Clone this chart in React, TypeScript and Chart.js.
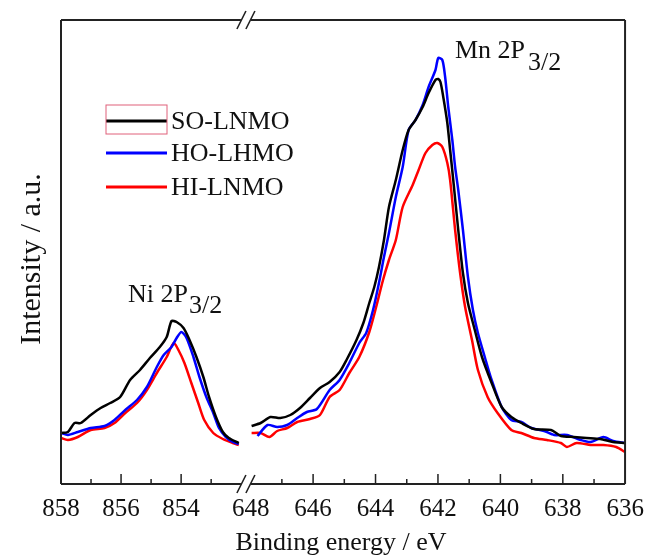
import React, { useEffect, useRef } from "react";
import { Chart, registerables } from "chart.js";

Chart.register(...registerables);

// ---------- data ----------
const seriesNames = ["SO-LNMO", "HO-LHMO", "HI-LNMO"];
const seriesColors = ["#000000", "#0000ff", "#ff0000"];

const tickEnergies = [858, 856, 854, 648, 646, 644, 642, 640, 638, 636];
const tickLabels = ["858", "856", "854", "648", "646", "644", "642", "640", "638", "636"];
const majorTickEnergies = [856, 854, 646, 644, 642, 640, 638];
const minorTickEnergies = [857, 855, 853, 647, 645, 643, 641, 639, 637];

// Ni 2p3/2 region (binding energy, intensity a.u.)
const soNiE = [858.0, 857.77, 857.55, 857.34, 857.01, 856.68, 856.36, 856.03, 855.7, 855.37, 855.04, 854.71, 854.48, 854.32, 854.15, 853.92, 853.72, 853.49, 853.26, 853.07, 852.84, 852.61, 852.41, 852.08];
const soNiI = [51, 52, 61, 61, 69, 76, 81, 87, 104, 114, 126, 137, 147, 163, 162, 156, 144, 127, 107, 87, 67, 52, 46, 41];
const hoNiE = [858.0, 857.77, 857.44, 857.01, 856.55, 856.22, 855.86, 855.47, 855.14, 854.81, 854.58, 854.32, 854.15, 853.99, 853.82, 853.59, 853.39, 853.16, 852.93, 852.74, 852.51, 852.28, 852.08];
const hoNiI = [51, 49, 52, 56, 58, 64, 74, 84, 97, 117, 129, 137, 146, 152, 146, 127, 107, 87, 71, 56, 47, 42, 40];
const hiNiE = [858.0, 857.77, 857.44, 857.01, 856.55, 856.22, 855.86, 855.47, 855.14, 854.81, 854.48, 854.25, 854.09, 853.89, 853.66, 853.43, 853.23, 852.93, 852.61, 852.28, 852.08];
const hiNiI = [46, 44, 47, 54, 56, 61, 71, 81, 94, 111, 127, 141, 134, 121, 101, 81, 64, 51, 45, 41, 39];

// Mn 2p3/2 region
const soMnE = [647.97, 647.68, 647.37, 647.05, 646.73, 646.42, 646.1, 645.78, 645.47, 645.15, 644.93, 644.61, 644.39, 644.2, 644.04, 643.89, 643.73, 643.57, 643.35, 643.13, 642.94, 642.72, 642.49, 642.3, 642.08, 641.99, 641.92, 641.83, 641.7, 641.61, 641.51, 641.35, 641.2, 641.04, 640.82, 640.59, 640.28, 639.96, 639.65, 639.33, 638.92, 638.38, 638.06, 637.65, 637.24, 636.8, 636.39, 636.01];
const soMnI = [58, 61, 67, 66, 69, 76, 86, 96, 102, 112, 124, 144, 161, 181, 197, 217, 244, 277, 304, 334, 354, 364, 377, 391, 404, 405, 402, 387, 361, 334, 304, 254, 211, 181, 154, 127, 101, 77, 67, 61, 55, 54, 48, 47, 46, 45, 42, 41];
const hoMnE = [647.78, 647.46, 647.15, 646.83, 646.51, 646.2, 645.88, 645.47, 645.15, 644.84, 644.52, 644.3, 644.08, 643.89, 643.73, 643.57, 643.35, 643.13, 642.94, 642.72, 642.49, 642.3, 642.08, 641.99, 641.86, 641.77, 641.67, 641.54, 641.45, 641.35, 641.2, 641.04, 640.88, 640.72, 640.5, 640.28, 639.96, 639.65, 639.33, 639.01, 638.6, 638.28, 637.87, 637.43, 637.11, 636.7, 636.39, 636.01];
const hoMnI = [48, 59, 57, 59, 66, 72, 75, 94, 104, 121, 141, 151, 174, 201, 227, 251, 287, 317, 354, 364, 379, 397, 414, 426, 424, 407, 377, 344, 317, 294, 254, 207, 174, 151, 127, 104, 77, 64, 62, 56, 53, 49, 49, 44, 42, 47, 43, 41];
const hiMnE = [647.97, 647.68, 647.4, 647.15, 646.83, 646.51, 646.1, 645.78, 645.47, 645.15, 644.84, 644.52, 644.2, 643.98, 643.76, 643.57, 643.35, 643.13, 642.81, 642.62, 642.4, 642.18, 642.02, 641.86, 641.7, 641.61, 641.45, 641.29, 641.13, 640.91, 640.72, 640.41, 640.09, 639.65, 639.33, 638.92, 638.51, 638.06, 637.87, 637.56, 637.11, 636.7, 636.29, 636.01];
const hiMnI = [51, 51, 47, 53, 56, 62, 65, 69, 87, 94, 111, 127, 152, 177, 204, 224, 244, 277, 299, 314, 331, 339, 341, 337, 321, 304, 254, 211, 177, 144, 114, 87, 71, 54, 51, 46, 44, 41, 37, 41, 39, 39, 37, 32];

// ---------- broken-axis mapping ----------
const LEFT_START = 858;
const LEFT_SCALE = 30.4;
const RIGHT_START = 648;
const RIGHT_OFFSET = 192;
const RIGHT_SCALE = 31.6;
const X_MAX = 571;
const Y_MAX = 464;

const pos = (e: number) =>
  e > 750 ? (LEFT_START - e) * LEFT_SCALE : RIGHT_OFFSET + (RIGHT_START - e) * RIGHT_SCALE;

const buildSeries = (le: number[], li: number[], re: number[], ri: number[]) => {
  const left = le.map((e, i) => ({ x: pos(e), y: li[i] }));
  const gap = { x: (pos(le[le.length - 1]) + pos(re[0])) / 2, y: null as any };
  const right = re.map((e, i) => ({ x: pos(e), y: ri[i] }));
  return [...left, gap, ...right];
};

const FONT = "'Liberation Serif', 'Times New Roman', serif";
const TEXT = "#111111";

const decorPlugin = {
  id: "decor",
  afterDraw(chart: any) {
    const { ctx, chartArea: a, scales } = chart;
    const xs = scales.x;
    const px = (e: number) => xs.getPixelForValue(pos(e));
    const breakC = xs.getPixelForValue((pos(852.0) + pos(648)) / 2);
    ctx.save();
    // frame
    ctx.strokeStyle = "#222222";
    ctx.lineWidth = 2;
    ctx.beginPath();
    ctx.moveTo(a.left, a.top);
    ctx.lineTo(a.left, a.bottom);
    ctx.moveTo(a.right, a.top);
    ctx.lineTo(a.right, a.bottom);
    for (const y of [a.top, a.bottom]) {
      ctx.moveTo(a.left, y);
      ctx.lineTo(breakC - 5, y);
      ctx.moveTo(breakC + 5, y);
      ctx.lineTo(a.right, y);
    }
    ctx.stroke();
    // break marks
    ctx.lineWidth = 1.6;
    ctx.beginPath();
    for (const y of [a.top, a.bottom]) {
      for (const c of [breakC - 4.5, breakC + 4.5]) {
        ctx.moveTo(c - 4.5, y + 9);
        ctx.lineTo(c + 4.5, y - 9);
      }
    }
    ctx.stroke();
    // ticks
    ctx.lineWidth = 1.5;
    ctx.beginPath();
    for (const e of majorTickEnergies) {
      const x = px(e);
      ctx.moveTo(x, a.bottom);
      ctx.lineTo(x, a.bottom - 10);
    }
    for (const e of minorTickEnergies) {
      const x = px(e);
      ctx.moveTo(x, a.bottom);
      ctx.lineTo(x, a.bottom - 5);
    }
    ctx.stroke();

    // legend
    const legX0 = 106;
    const legX1 = 167;
    const legY = [121, 153, 187];
    ctx.lineWidth = 3;
    seriesNames.forEach((name, i) => {
      ctx.strokeStyle = seriesColors[i];
      ctx.beginPath();
      ctx.moveTo(legX0, legY[i]);
      ctx.lineTo(legX1, legY[i]);
      ctx.stroke();
      ctx.fillStyle = TEXT;
      ctx.font = `26px ${FONT}`;
      ctx.textAlign = "left";
      ctx.textBaseline = "alphabetic";
      ctx.fillText(name, 171, legY[i] + 8);
    });
    ctx.strokeStyle = "#e0607a";
    ctx.lineWidth = 1;
    ctx.strokeRect(106, 105, 61, 29);

    // peak annotations
    ctx.fillStyle = TEXT;
    ctx.font = `26px ${FONT}`;
    ctx.textAlign = "left";
    ctx.textBaseline = "alphabetic";
    ctx.fillText("Ni 2P", 128, 302);
    ctx.fillText("3/2", 189, 313);
    ctx.fillText("Mn 2P", 455, 58);
    ctx.fillText("3/2", 528, 70);

    // axis titles
    ctx.font = `26px ${FONT}`;
    ctx.textAlign = "center";
    ctx.fillText("Binding energy / eV", 341, 550);
    ctx.save();
    ctx.translate(40, 259);
    ctx.rotate(-Math.PI / 2);
    ctx.font = `30px ${FONT}`;
    ctx.textBaseline = "alphabetic";
    ctx.fillText("Intensity / a.u.", 0, 0);
    ctx.restore();
    ctx.restore();
  },
};

export default function App() {
  const ref = useRef<HTMLCanvasElement | null>(null);
  useEffect(() => {
    if (!ref.current) return;
    const mk = (i: number, data: any[]) => ({
      label: seriesNames[i],
      data,
      borderColor: seriesColors[i],
      backgroundColor: seriesColors[i],
      borderWidth: 2.5,
      pointRadius: 0,
      tension: 0.25,
      spanGaps: false,
      fill: false,
    });
    const chart = new Chart(ref.current, {
      type: "line",
      data: {
        datasets: [
          mk(0, buildSeries(soNiE, soNiI, soMnE, soMnI)),
          mk(1, buildSeries(hoNiE, hoNiI, hoMnE, hoMnI)),
          mk(2, buildSeries(hiNiE, hiNiI, hiMnE, hiMnI)),
        ],
      },
      options: {
        responsive: false,
        animation: false,
        parsing: false as any,
        layout: { padding: { left: 61, right: 22, top: 20, bottom: 0 } },
        plugins: { legend: { display: false }, tooltip: { enabled: false } },
        scales: {
          x: {
            type: "linear",
            min: 0,
            max: X_MAX,
            grid: { display: false, drawTicks: false },
            border: { display: false },
            afterFit: (s: any) => {
              s.height = 72;
            },
            afterBuildTicks: (s: any) => {
              s.ticks = tickEnergies.map((e) => ({ value: pos(e) }));
            },
            ticks: {
              autoSkip: false,
              maxRotation: 0,
              padding: 10,
              color: TEXT,
              font: { family: FONT, size: 25 },
              callback: (_v: any, i: number) => tickLabels[i],
            },
          },
          y: {
            type: "linear",
            display: false,
            min: 0,
            max: Y_MAX,
          },
        },
      },
      plugins: [decorPlugin],
    });
    return () => chart.destroy();
  }, []);
  return (
    <div style={{ position: "absolute", left: 0, top: 0, width: 654, height: 556, background: "#fff" }}>
      <canvas ref={ref} width={654} height={556} style={{ display: "block" }} />
    </div>
  );
}
